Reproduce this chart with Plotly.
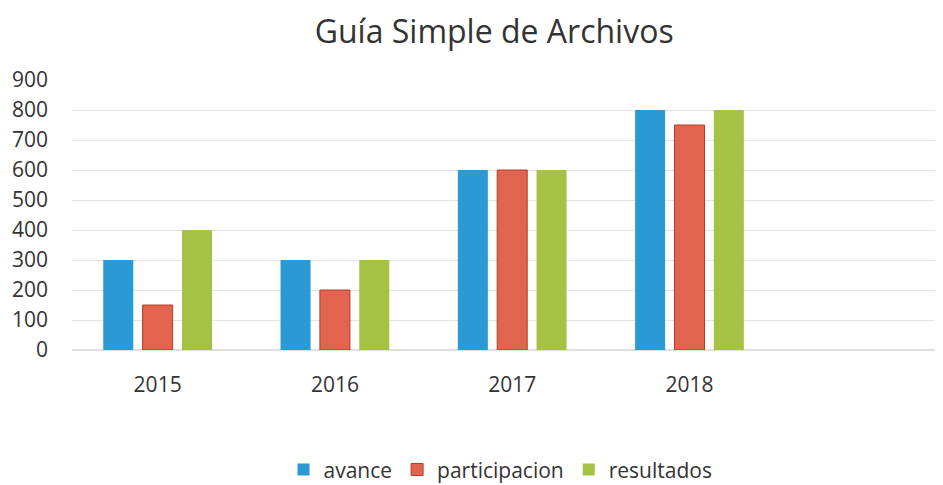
import plotly.graph_objects as go

years = ["2015", "2016", "2017", "2018"]
avance = [300, 300, 600, 800]
participacion = [150, 200, 600, 750]
resultados = [400, 300, 600, 800]
y_ticks = [0, 100, 200, 300, 400, 500, 600, 700, 800, 900]

FONT = "Open Sans"

fig = go.Figure()
fig.add_trace(go.Bar(name="avance", x=years, y=avance,
                     marker=dict(color="#2A9AD4", line=dict(width=0))))
fig.add_trace(go.Bar(name="participacion", x=years, y=participacion,
                     marker=dict(color="#E0644E", line=dict(color="#B83A2A", width=1))))
fig.add_trace(go.Bar(name="resultados", x=years, y=resultados,
                     marker=dict(color="#A6C245", line=dict(width=0))))

fig.update_layout(
    width=935, height=477,
    margin=dict(l=64, r=0, t=72, b=135, autoexpand=False),
    paper_bgcolor="white", plot_bgcolor="white",
    barmode="group", bargap=0.334, bargroupgap=0.237,
    font=dict(family=FONT, size=21, color="#333333"),
    title=dict(text="Guía Simple de Archivos", x=0.52, xanchor="center",
               y=0.95, yanchor="middle",
               font=dict(family=FONT, size=32, color="#333333")),
    legend=dict(orientation="h", x=0.492, xanchor="center", y=-0.444, yanchor="middle",
                font=dict(family=FONT, size=21, color="#333333"),
                itemwidth=30, traceorder="normal"),
    xaxis=dict(type="category", range=[-0.483, 4.43], showgrid=False, automargin=False,
               showline=False, zeroline=False, ticks="", ticklabelstandoff=20,
               tickfont=dict(family=FONT, size=21, color="#333333")),
    yaxis=dict(range=[0, 900], tickvals=y_ticks, showgrid=True, gridcolor="#E4E4E4",
               gridwidth=1, zeroline=True, zerolinecolor="#E0E0E0", showline=False,
               automargin=False, ticks="", ticklabelstandoff=23,
               tickfont=dict(family=FONT, size=21, color="#333333")),
)

fig.write_html("out.html")
